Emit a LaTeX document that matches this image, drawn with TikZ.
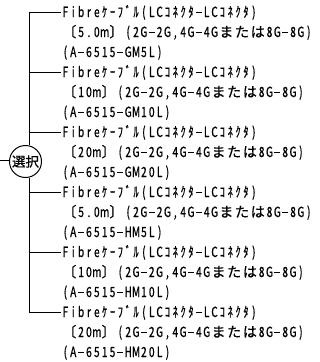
\documentclass[tikz,border=0pt]{standalone}
\usepackage{fontspec}
\newfontfamily\jpf[FakeBold=0.6]{Noto Sans CJK JP}
\newfontfamily\jpn[FakeStretch=0.72,FakeBold=0.8]{Noto Sans CJK JP}
\newlength\cw \setlength\cw{7.85pt}
\makeatletter
\def\mono#1{\mono@a#1\relax}
\def\mono@a#1{\ifx\relax#1\else\mono@b{#1}\expandafter\mono@a\fi}
\def\mono@b#1{\ifx-#1\makebox[\cw][c]{\rule[3.9pt]{5.8pt}{1.1pt}}\else
  \ifnum`#1>"2FFF \ifnum`#1<"FF61 \makebox[2\cw][c]{\jpf#1}\else\makebox[\cw][c]{\jpn#1}\fi\else\makebox[\cw][c]{\jpn#1}\fi\fi}
\makeatother
\begin{document}
\begin{tikzpicture}[x=1pt,y=-1pt,line width=1pt,
  txt/.style={anchor=base west,inner sep=0pt,font=\fontsize{14}{20}\selectfont},
  selnode/.style={circle,draw,minimum size=32pt,inner sep=0pt,font=\jpf\fontsize{13.5}{14}\selectfont}]
\useasboundingbox (0,0) rectangle (320,362);
\node[selnode] (sel) at (25.5,161.5) {選択};
\coordinate (in) at (0,160.5);
\draw (in) -- (in -| sel.west);
\foreach \i/\len/\code in {1/5.0m/GM5L,2/10m/GM10L,3/20m/GM20L,4/5.0m/HM5L,5/10m/HM10L,6/20m/HM20L}{
  \coordinate (j\i) at (29,{12+60*(\i-1)});
  \node[txt] (a\i) at (61,{17+60*(\i-1)}) {\mono{Fibreｹｰﾌﾞﾙ(LCｺﾈｸﾀ-LCｺﾈｸﾀ)}};
  \node[txt] (b\i) at (61,{37+60*(\i-1)}) {\edef\tmp{\noexpand\mono{〔\len〕(2G-2G,4G-4Gまたは8G-8G)}}\tmp};
  \node[txt] (c\i) at (61,{57+60*(\i-1)}) {\edef\tmp{\noexpand\mono{(A-6515-\code)}}\tmp};
  \draw (j\i) -- (j\i -| a\i.west);
}
\draw (j1) -- (j1 |- sel.north);
\draw (j6 |- sel.south) -- (j6);
\end{tikzpicture}
\end{document}
